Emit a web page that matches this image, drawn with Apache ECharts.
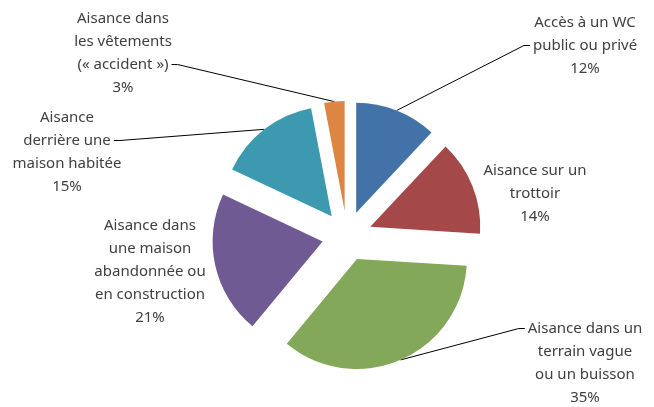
<!DOCTYPE html>
<html>
<head>
<meta charset="utf-8">
<script src="https://cdn.jsdelivr.net/npm/echarts@6/dist/echarts.min.js"></script>
<style>
  html, body { margin: 0; padding: 0; background: #fff; }
  #chart { width: 654px; height: 407px; }
</style>
</head>
<body>
<div id="chart"></div>
<script>
// catégories et valeurs (%)
const categories = [
  'Accès à un WC\npublic ou privé',
  'Aisance sur un\ntrottoir',
  'Aisance dans un\nterrain vague\nou un buisson',
  'Aisance dans\nune maison\nabandonnée ou\nen construction',
  'Aisance\nderrière une\nmaison habitée',
  'Aisance dans\nles vêtements\n(« accident »)'
];
const values = [12, 14, 35, 21, 15, 3];
const colors = ['#4272a8', '#a5484a', '#84a85a', '#705a94', '#3c99b0', '#dd8644'];

// position des étiquettes (centre x, haut y), ligne de texte où arrive le trait (-1 = pas de trait)
const labelPos = [
  { x: 585, y: 11, lineAt: 1 },
  { x: 535, y: 159, lineAt: -1 },
  { x: 585, y: 317, lineAt: 0 },
  { x: 150, y: 214, lineAt: -1 },
  { x: 67, y: 106, lineAt: 1 },
  { x: 123, y: 7, lineAt: 2 }
];

const cx = 347, cy = 236, explode = 25;
const font = '15px "Noto Sans"';
const lh = 23;

const ctx = document.createElement('canvas').getContext('2d');
ctx.font = font;

let chart = echarts.init(document.getElementById('chart'));

// camembert éclaté : une série par part, décalée le long de sa bissectrice
const total = values.reduce((a, b) => a + b, 0);
let cum = 0;
let series = values.map((v, i) => {
  const mid = (cum + v / 2) / total * 2 * Math.PI;
  cum += v;
  return {
    type: 'pie',
    center: [cx + explode * Math.sin(mid), cy - explode * Math.cos(mid)],
    radius: [0, 110],
    startAngle: 90,
    clockwise: true,
    silent: true,
    emphasis: { disabled: true },
    labelLayout: function (params) {
      if (params.dataIndex !== i) return {};
      const p = labelPos[i];
      const res = { x: p.x, y: p.y, align: 'center', verticalAlign: 'top' };
      if (p.lineAt >= 0 && params.labelLinePoints) {
        const txt = categories[i].split('\n')[p.lineAt];
        const w = ctx.measureText(txt).width;
        const yl = p.y + lh * p.lineAt + lh / 2;
        const start = params.labelLinePoints[0];
        const right = start[0] < p.x;
        const ex = right ? p.x - w / 2 - 3 : p.x + w / 2 + 3;
        const kx = right ? ex - 6 : ex + 6;
        res.labelLinePoints = [start, [kx, yl], [ex, yl]];
      }
      return res;
    },
    data: categories.map((name, j) => ({
      name: name,
      value: values[j],
      itemStyle: { color: j === i ? colors[j] : 'rgba(0,0,0,0)' },
      label: {
        show: j === i,
        formatter: p => p.name + '\n' + p.value + '%',
        fontFamily: 'Noto Sans',
        fontSize: 15,
        lineHeight: lh,
        color: '#404040',
        align: 'center'
      },
      labelLine: {
        show: j === i && labelPos[j].lineAt >= 0,
        length: 10,
        length2: 6,
        lineStyle: { color: '#000', width: 1 }
      }
    }))
  };
});

chart.setOption({ animation: false, series: series });
</script>
</body>
</html>
